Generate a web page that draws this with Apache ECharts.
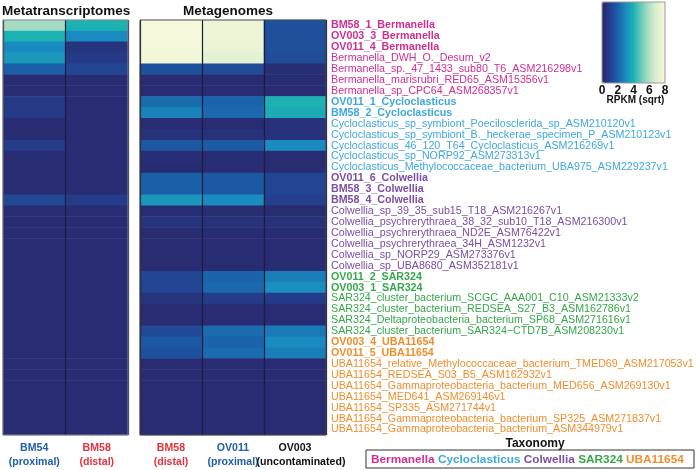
<!DOCTYPE html>
<html><head><meta charset="utf-8">
<script src="https://cdn.jsdelivr.net/npm/echarts@6/dist/echarts.min.js"></script>
<style>html,body{margin:0;padding:0;background:#fff}#c{width:697px;height:470px}</style>
</head><body><div id="c"></div><script>
const rowLabels = [
 'BM58_1_Bermanella','OV003_3_Bermanella','OV011_4_Bermanella','Bermanella_DWH_O._Desum_v2',
 'Bermanella_sp._47_1433_sub80_T6_ASM216298v1','Bermanella_marisrubri_RED65_ASM15356v1','Bermanella_sp_CPC64_ASM268357v1',
 'OV011_1_Cycloclasticus','BM58_2_Cycloclasticus','Cycloclasticus_sp_symbiont_Poecilosclerida_sp_ASM210120v1',
 'Cycloclasticus_sp_symbiont_B._heckerae_specimen_P_ASM210123v1','Cycloclasticus_46_120_T64_Cycloclasticus_ASM216269v1',
 'Cycloclasticus_sp_NORP92_ASM273313v1','Cycloclasticus_Methylococcaceae_bacterium_UBA975_ASM229237v1',
 'OV011_6_Colwellia','BM58_3_Colwellia','BM58_4_Colwellia','Colwellia_sp_39_35_sub15_T18_ASM216267v1',
 'Colwellia_psychrerythraea_38_32_sub10_T18_ASM216300v1','Colwellia_psychrerythraea_ND2E_ASM76422v1',
 'Colwellia_psychrerythraea_34H_ASM1232v1','Colwellia_sp_NORP29_ASM273376v1','Colwellia_sp_UBA8680_ASM352181v1',
 'OV011_2_SAR324','OV003_1_SAR324','SAR324_cluster_bacterium_SCGC_AAA001_C10_ASM21333v2',
 'SAR324_cluster_bacterium_REDSEA_S27_B3_ASM162786v1','SAR324_Deltaproteobacteria_bacterium_SP68_ASM271616v1',
 'SAR324_cluster_bacterium_SAR324\u2212CTD7B_ASM208230v1','OV003_4_UBA11654','OV011_5_UBA11654',
 'UBA11654_relative_Methylococcaceae_bacterium_TMED69_ASM217053v1','UBA11654_REDSEA_S03_B5_ASM162932v1',
 'UBA11654_Gammaproteobacteria_bacterium_MED656_ASM269130v1','UBA11654_MED641_ASM269146v1',
 'UBA11654_SP335_ASM271744v1','UBA11654_Gammaproteobacteria_bacterium_SP325_ASM271837v1',
 'UBA11654_Gammaproteobacteria_bacterium_ASM344979v1'
];
const rowTaxa = [
 'Bermanella','Bermanella','Bermanella','Bermanella','Bermanella','Bermanella','Bermanella',
 'Cycloclasticus','Cycloclasticus','Cycloclasticus','Cycloclasticus','Cycloclasticus','Cycloclasticus','Cycloclasticus',
 'Colwellia','Colwellia','Colwellia','Colwellia','Colwellia','Colwellia','Colwellia','Colwellia','Colwellia',
 'SAR324','SAR324','SAR324','SAR324','SAR324','SAR324',
 'UBA11654','UBA11654','UBA11654','UBA11654','UBA11654','UBA11654','UBA11654','UBA11654','UBA11654'
];
const taxaNames = ['Bermanella','Cycloclasticus','Colwellia','SAR324','UBA11654'];
const mtColumns = ['BM54','BM58'];
const mtSites = ['(proximal)','(distal)'];
const mgColumns = ['BM58','OV011','OV003'];
const mgSites = ['(distal)','(proximal)','(uncontaminated)'];
// metatranscriptomes
const mtBM54 = [5.8,4.0,3.0,3.3,2.0,0.3,0.3,0.8,0.8,0.3,0.3,0.9,0.3,0.3,0.3,0.3,1.3,0.3,0.3,0.3,0.3,0.3,0.3,0.3,0.3,0.3,0.3,0.3,0.3,0.3,0.3,0.3,0.3,0.3,0.3,0.3,0.3,0.3];
const mtBM58 = [4.0,3.0,0.6,0.8,1.2,0.3,0.3,0.3,0.3,0.3,0.3,0.3,0.3,0.3,0.3,0.3,0.9,0.3,0.3,0.3,0.3,0.3,0.3,0.3,0.3,0.3,0.3,0.3,0.3,0.3,0.3,0.3,0.3,0.3,0.3,0.3,0.3,0.3];
// metagenomes
const mgBM58  = [8.0,8.0,7.9,7.8,1.6,0.3,0.3,2.3,2.8,0.3,0.5,1.8,0.4,0.3,2.0,2.0,3.3,0.3,0.6,0.3,0.3,0.3,0.3,1.2,1.2,0.6,0.3,0.3,1.3,1.8,1.6,0.3,0.3,0.3,0.3,0.3,0.3,0.3];
const mgOV011 = [7.6,7.6,7.5,7.2,1.4,0.3,0.3,2.1,2.2,0.3,0.5,1.9,0.3,0.3,1.8,1.8,3.0,0.3,0.5,0.3,0.3,0.3,0.3,2.1,2.2,0.9,0.3,0.3,2.3,2.1,2.3,0.3,0.3,0.3,0.3,0.3,0.3,0.3];
const mgOV003 = [1.6,1.5,1.5,1.4,0.4,0.3,0.3,4.0,3.8,0.5,0.5,3.0,0.3,0.3,1.2,1.2,1.0,0.3,0.5,0.3,0.3,0.3,0.3,2.7,3.1,0.9,0.3,0.3,2.6,3.0,2.7,0.3,0.3,0.3,0.3,0.3,0.3,0.3];
const colorTicks = [0,2,4,6,8];

const FONT = '"Liberation Sans", Arial, Helvetica, sans-serif';
const palette = ['#2a2466','#243f8e','#1b5fa8','#1a8bc0','#1cb2b2','#6ccabb','#b4e0c6','#def0d0','#f8f9dc'];
const taxaColors = {Bermanella:'#d12f8f',Cycloclasticus:'#3ea8dd',Colwellia:'#7b4ea3',SAR324:'#36a84a',UBA11654:'#f08e2d'};
const siteColors = {'(proximal)':'#1f5fa6','(distal)':'#e5323f','(uncontaminated)':'#111111'};

function cells(cols){ const d=[]; cols.forEach((arr,x)=>arr.forEach((v,y)=>d.push([x,y,v]))); return d; }

const rich = {};
taxaNames.forEach(t=>{
  rich[t+'r'] = {color:taxaColors[t], fontSize:10.7, fontFamily:FONT, fontWeight:'normal'};
  rich[t+'b'] = {color:taxaColors[t], fontSize:10.7, fontFamily:FONT, fontWeight:'bold'};
});
const siteKeys = Object.keys(siteColors);
const colRich = {};
siteKeys.forEach((s,i)=>{
  colRich['n'+i] = {color:siteColors[s], fontSize:10.6, fontWeight:'bold', fontFamily:FONT, lineHeight:14, align:'center'};
  colRich['s'+i] = {color:siteColors[s], fontSize:10.6, fontWeight:'bold', fontFamily:FONT, lineHeight:14, align:'center',
    padding: s==='(uncontaminated)' ? [0,0,0,12] : 0};
});
function colFmt(sites){ return (v,i)=>{ const k=siteKeys.indexOf(sites[i]); return '{n'+k+'|'+v+'}\n{s'+k+'|'+sites[i]+'}'; }; }

const chart = echarts.init(document.getElementById('c'), null, {renderer:'canvas'});
const g1 = {left:3, top:20, width:125, height:415};
const g2 = {left:140, top:20, width:186, height:415};
const cb = {left:602, top:2, w:63, h:81};

const legendRich = {};
taxaNames.forEach(t=>{ legendRich[t] = {fill:taxaColors[t], fontSize:11.8, fontWeight:'bold', fontFamily:FONT}; });

chart.setOption({
  animation:false,
  textStyle:{fontFamily:FONT},
  title:[
    {text:'Metatranscriptomes', left:2, top:4, textStyle:{fontSize:13.5, fontWeight:'bold', color:'#111', fontFamily:FONT}, padding:0},
    {text:'Metagenomes', left:183, top:4, textStyle:{fontSize:13.5, fontWeight:'bold', color:'#111', fontFamily:FONT}, padding:0}
  ],
  grid:[
    Object.assign({containLabel:false}, g1),
    Object.assign({containLabel:false}, g2)
  ],
  xAxis:[
    {type:'category', gridIndex:0, data:mtColumns, z:5, axisLine:{show:false}, axisTick:{show:false},
     splitLine:{show:true, interval:0, lineStyle:{color:'#1c1c3c', width:1.2}},
     axisLabel:{interval:0, margin:6, formatter:colFmt(mtSites), rich:colRich}},
    {type:'category', gridIndex:1, data:mgColumns, z:5, axisLine:{show:false}, axisTick:{show:false},
     splitLine:{show:true, interval:0, lineStyle:{color:'#1c1c3c', width:1.2}},
     axisLabel:{interval:0, margin:6, hideOverlap:false, formatter:colFmt(mgSites), rich:colRich}}
  ],
  yAxis:[
    {type:'category', gridIndex:0, data:rowLabels, inverse:true, show:false},
    {type:'category', gridIndex:1, data:rowLabels, inverse:true, position:'right',
     axisLine:{show:false}, axisTick:{show:false}, splitLine:{show:false},
     axisLabel:{interval:0, margin:5, align:'left', rich:rich,
       formatter:(v,i)=>{ const b=/^(BM|OV)\d/.test(v)?'b':'r'; return '{'+rowTaxa[i]+b+'|'+v+'}'; }}}
  ],
  visualMap:{type:'continuous', min:colorTicks[0], max:colorTicks[colorTicks.length-1], seriesIndex:[0,1],
    orient:'horizontal', left:cb.left, top:cb.top, itemWidth:cb.h, itemHeight:cb.w, padding:0,
    calculable:false, realtime:false, text:null, showLabel:false, hoverLink:false,
    inRange:{color:palette}},
  series:[
    {type:'heatmap', xAxisIndex:0, yAxisIndex:0, data:cells([mtBM54,mtBM58]), itemStyle:{borderWidth:0}, emphasis:{disabled:true}},
    {type:'heatmap', xAxisIndex:1, yAxisIndex:1, data:cells([mgBM58,mgOV011,mgOV003]), itemStyle:{borderWidth:0}, emphasis:{disabled:true}}
  ],
  graphic:[
    {type:'rect', shape:{x:g1.left, y:g1.top, width:g1.width, height:g1.height}, style:{fill:null, stroke:'#8a8a8a', lineWidth:1}, z:100, silent:true},
    {type:'rect', shape:{x:g2.left, y:g2.top, width:g2.width, height:g2.height}, style:{fill:null, stroke:'#4a4a44', lineWidth:1}, z:100, silent:true},
    {type:'rect', shape:{x:cb.left, y:cb.top, width:cb.w, height:cb.h}, style:{fill:null, stroke:'#999', lineWidth:1}, z:100, silent:true},
    ...colorTicks.map(t=>({type:'text', x:cb.left + (t-colorTicks[0])/(colorTicks[colorTicks.length-1]-colorTicks[0])*cb.w, y:91,
      style:{text:String(t), fontSize:12, fontWeight:'bold', fontFamily:FONT, fill:'#111', align:'center', verticalAlign:'middle'}, z:100})),
    {type:'text', x:cb.left+cb.w/2+2, y:100, style:{text:'RPKM (sqrt)', fontSize:10, fontWeight:'bold', fontFamily:FONT, fill:'#111', align:'center', verticalAlign:'middle'}, z:100},
    {type:'text', x:535, y:444, style:{text:'Taxonomy', fontSize:12, fontWeight:'bold', fontFamily:FONT, fill:'#111', align:'center', verticalAlign:'middle'}, z:100},
    {type:'rect', shape:{x:366, y:450, width:328, height:18}, style:{fill:null, stroke:'#333', lineWidth:1}, z:100, silent:true},
    {type:'text', x:371, y:459.5, style:{text:taxaNames.map(t=>'{'+t+'|'+t+'}').join(' '), rich:legendRich, fontSize:11.8, fontWeight:'bold', fontFamily:FONT, verticalAlign:'middle', align:'left'}, z:100}
  ]
});
</script></body></html>
